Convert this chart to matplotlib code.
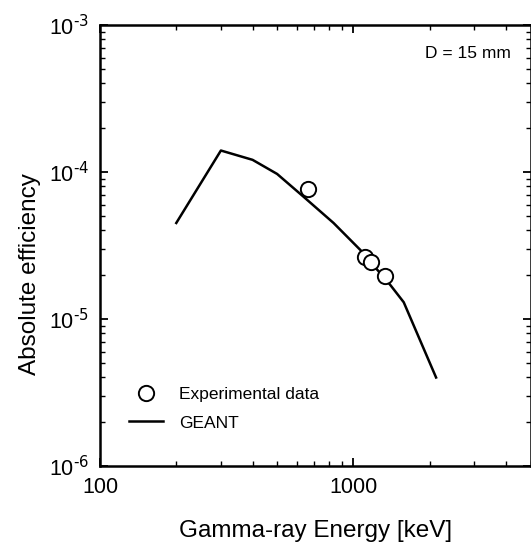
import math

import matplotlib
matplotlib.use("Agg")
import matplotlib.pyplot as plt
from matplotlib.ticker import FuncFormatter, LogLocator, NullFormatter
from matplotlib.lines import Line2D

plt.rcParams["font.family"] = ["Liberation Sans", "DejaVu Sans"]

# GEANT simulation curve (keV, absolute efficiency)
geant_energy = [200, 300, 400, 500, 635, 835, 1065, 1400, 1580, 2120]
geant_eff = [4.5e-5, 1.4e-4, 1.21e-4, 9.7e-5, 6.8e-5, 4.5e-5, 2.95e-5, 1.7e-5, 1.3e-5, 4.0e-6]

# experimental points
exp_energy = [662, 1115, 1173, 1332]
exp_eff = [7.65e-5, 2.65e-5, 2.45e-5, 1.95e-5]

W, H = 531, 543
fig = plt.figure(figsize=(W / 100, H / 100), dpi=100)
ax = fig.add_axes([100 / W, (H - 466) / H, 430.5 / W, 441 / H])

ax.plot(geant_energy, geant_eff, color="black", lw=1.8, label="GEANT")
ax.plot(exp_energy, exp_eff, "o", ms=11, mfc="white", mec="black", mew=1.4,
        ls="none", label="Experimental data")

ax.set_xscale("log")
ax.set_yscale("log")
ax.set_xlim(100, 5000)
ax.set_ylim(1e-6, 1e-3)


def exp_label(v, pos):
    n = round(math.log10(v))
    return r"$\mathregular{10^{\text{%d}}}$" % n


ax.xaxis.set_major_locator(LogLocator(base=10))
ax.xaxis.set_minor_locator(LogLocator(base=10, subs=range(2, 10)))
ax.yaxis.set_major_locator(LogLocator(base=10))
ax.yaxis.set_minor_locator(LogLocator(base=10, subs=range(2, 10)))
ax.xaxis.set_major_formatter(FuncFormatter(lambda v, p: f"{v:.0f}"))
ax.yaxis.set_major_formatter(FuncFormatter(exp_label))
ax.xaxis.set_minor_formatter(NullFormatter())
ax.yaxis.set_minor_formatter(NullFormatter())

ax.tick_params(which="both", direction="in", top=True, right=True, labelsize=15.5)
ax.tick_params(which="major", length=6, width=1.3, pad=8)
ax.tick_params(which="minor", length=3.5, width=1.0)
for s in ax.spines.values():
    s.set_linewidth(1.8)

ax.set_xlabel("Gamma-ray Energy [keV]", fontsize=17.5, labelpad=16)
ax.set_ylabel("Absolute efficiency", fontsize=17.5)
ax.yaxis.set_label_coords(-0.138, 0.435)

ax.text(0.755, 0.935, "D = 15 mm", transform=ax.transAxes, fontsize=12.5,
        ha="left", va="center")

handles = [
    Line2D([], [], marker="o", ls="none", ms=11, mfc="white", mec="black", mew=1.4),
    Line2D([], [], color="black", lw=1.8),
]
ax.legend(handles, ["Experimental data", "GEANT"], loc="lower left",
          bbox_to_anchor=(0.03, 0.045), frameon=False, fontsize=12.5,
          handlelength=2.0, handletextpad=0.9, labelspacing=0.75)

fig.savefig("out.png", dpi=100)
